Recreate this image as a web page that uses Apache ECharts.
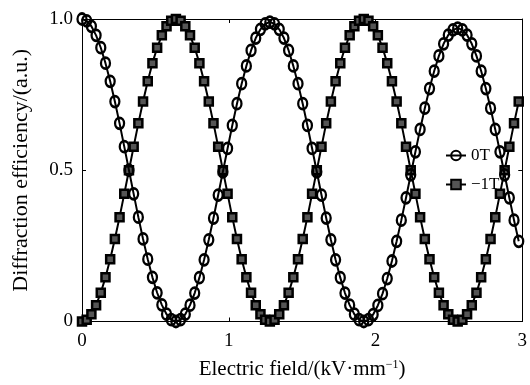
<!DOCTYPE html>
<html><head><meta charset="utf-8">
<script src="https://cdn.jsdelivr.net/npm/echarts@6/dist/echarts.min.js"></script>
<style>html,body{margin:0;padding:0;background:#fff}#c{width:530px;height:385px}</style>
</head><body><div id="c"></div>
<script>
const xField = [0,0.032,0.064,0.096,0.128,0.16,0.192,0.224,0.256,0.288,0.32,0.352,0.384,0.416,0.448,0.48,0.512,0.544,0.576,0.608,0.64,0.672,0.704,0.736,0.768,0.8,0.832,0.864,0.896,0.928,0.96,0.992,1.024,1.056,1.088,1.12,1.152,1.184,1.216,1.248,1.28,1.312,1.344,1.376,1.408,1.44,1.472,1.504,1.536,1.568,1.6,1.632,1.664,1.696,1.728,1.76,1.792,1.824,1.856,1.888,1.92,1.952,1.984,2.016,2.048,2.08,2.112,2.144,2.176,2.208,2.24,2.272,2.304,2.336,2.368,2.4,2.432,2.464,2.496,2.528,2.56,2.592,2.624,2.656,2.688,2.72,2.752,2.784,2.816,2.848,2.88,2.912,2.944,2.976];
const eff0T = [1.000,0.994,0.976,0.946,0.905,0.854,0.794,0.727,0.655,0.578,0.500,0.422,0.345,0.273,0.206,0.146,0.095,0.055,0.024,0.006,0.000,
0.006,0.024,0.054,0.094,0.145,0.204,0.270,0.342,0.418,0.495,0.572,0.648,0.720,0.786,0.845,0.896,0.937,0.966,0.984,0.990,
0.984,0.966,0.937,0.896,0.845,0.786,0.720,0.648,0.572,0.495,0.418,0.342,0.270,0.204,0.145,0.094,0.054,0.024,0.006,0.000,
0.006,0.023,0.053,0.092,0.142,0.200,0.265,0.335,0.409,0.485,0.561,0.635,0.705,0.770,0.828,0.878,0.918,0.947,0.964,0.970,
0.964,0.947,0.918,0.878,0.828,0.770,0.705,0.635,0.561,0.485,0.409,0.335,0.265];
const effM1T = [0.000,0.006,0.024,0.054,0.095,0.146,0.206,0.273,0.345,0.422,0.500,0.578,0.655,0.727,0.794,0.854,0.905,0.946,0.976,0.994,1.000,
0.994,0.976,0.946,0.905,0.854,0.794,0.727,0.655,0.578,0.500,0.422,0.345,0.273,0.206,0.146,0.095,0.054,0.024,0.006,0.000,
0.006,0.024,0.054,0.095,0.146,0.206,0.273,0.345,0.422,0.500,0.578,0.655,0.727,0.794,0.854,0.905,0.946,0.976,0.994,1.000,
0.994,0.976,0.946,0.905,0.854,0.794,0.727,0.655,0.578,0.500,0.422,0.345,0.273,0.206,0.146,0.095,0.054,0.024,0.006,0.000,
0.006,0.024,0.054,0.095,0.146,0.206,0.273,0.345,0.422,0.500,0.578,0.655,0.727];
const seriesNames = ['0T','\u22121T'];
const xTicks = [0,1,2,3];
const yTicks = [0,0.5,1.0];

const font = 'Liberation Serif';
const pairs = ys => xField.map((x,i)=>[x,ys[i]]);
const chart = echarts.init(document.getElementById('c'), null, {renderer:'canvas'});
const axBase = {
  axisLine:{show:true,onZero:false,lineStyle:{color:'#000',width:1}},
  axisTick:{show:true,inside:true,length:4,lineStyle:{color:'#000',width:1}},
  splitLine:{show:false}
};
chart.setOption({
  animation:false,
  backgroundColor:'#fff',
  grid:{left:82,right:1,top:19,bottom:62,containLabel:false},
  legend:{
    orient:'vertical', left:440, top:142, itemGap:12, itemWidth:20, itemHeight:12,
    textStyle:{fontFamily:font,fontSize:17,color:'#000'},
    data:seriesNames
  },
  xAxis:[
    Object.assign({type:'value',position:'bottom',min:0,max:3,interval:1,
      name:'Electric field/(kV·mm{sup|\u22121})',nameLocation:'middle',nameGap:37,
      nameTextStyle:{fontFamily:font,fontSize:21,color:'#000',rich:{sup:{fontFamily:font,fontSize:12,verticalAlign:'top',padding:[0,0,10,0],color:'#000'}}},
      axisLabel:{fontFamily:font,fontSize:19,color:'#000',margin:10,formatter:v=>xTicks.includes(v)?String(v):''}},axBase),
    Object.assign({type:'value',position:'top',min:0,max:3,interval:1,axisLabel:{show:false}},axBase)
  ],
  yAxis:[
    Object.assign({type:'value',position:'left',min:0,max:1,interval:0.5,
      name:'Diffraction efficiency/(a.u.)',nameLocation:'middle',nameGap:50,
      nameTextStyle:{fontFamily:font,fontSize:22,color:'#000'},
      axisLabel:{fontFamily:font,fontSize:19,color:'#000',margin:9,formatter:v=>v===0?'0':v.toFixed(1)}},axBase),
    Object.assign({type:'value',position:'right',min:0,max:1,interval:0.5,axisLabel:{show:false}},axBase)
  ],
  series:[
    {name:seriesNames[0],type:'line',data:pairs(eff0T),symbol:'circle',symbolSize:[9,11],showAllSymbol:true,
     lineStyle:{color:'#000',width:2},itemStyle:{color:'rgba(255,255,255,0)',borderColor:'#000',borderWidth:2.5},z:3},
    {name:seriesNames[1],type:'line',data:pairs(effM1T),symbol:'rect',symbolSize:8,showAllSymbol:true,
     lineStyle:{color:'#000',width:2},itemStyle:{color:'#555',borderColor:'#000',borderWidth:2.5},z:2}
  ]
});
</script></body></html>
